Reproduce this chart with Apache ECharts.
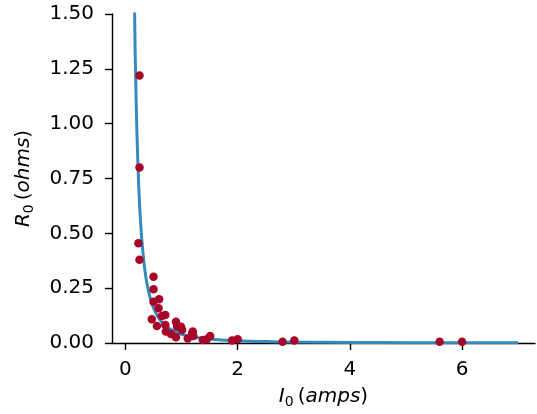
<!DOCTYPE html>
<html>
<head>
<meta charset="utf-8">
<script src="https://cdn.jsdelivr.net/npm/echarts@6/dist/echarts.min.js"></script>
<style>html,body{margin:0;padding:0;background:#fff}#c{width:537px;height:414px}</style>
</head>
<body>
<div id="c"></div>
<script>
// Measured current I0 (amps)
const measI = [0.25, 0.25, 0.23, 0.25, 0.50, 0.50, 0.50, 0.60, 0.59, 0.71, 0.65, 0.47, 0.56, 0.71, 0.72, 0.81, 0.90, 0.92, 0.99, 1.01, 0.90, 1.11, 1.20, 1.21, 1.19, 1.38, 1.51, 1.45, 1.90, 2.00, 2.80, 3.01, 5.60, 6.00];
// Measured resistance R0 (ohms)
const measR = [1.22, 0.80, 0.455, 0.38, 0.302, 0.245, 0.188, 0.199, 0.158, 0.128, 0.123, 0.108, 0.078, 0.082, 0.052, 0.041, 0.097, 0.074, 0.074, 0.059, 0.026, 0.021, 0.052, 0.032, 0.044, 0.014, 0.032, 0.017, 0.011, 0.017, 0.006, 0.011, 0.006, 0.006];
// Fitted curve
const fitI = [0.105, 0.13, 0.16, 0.19, 0.22, 0.25, 0.28, 0.32, 0.37, 0.43, 0.50, 0.60, 0.70, 0.85, 1.0, 1.2, 1.5, 2.0, 2.5, 3.0, 4.0, 5.0, 6.0, 7.0];
const fitR = [3.6, 2.37, 1.56, 1.11, 0.83, 0.64, 0.51, 0.39, 0.29, 0.216, 0.16, 0.111, 0.082, 0.055, 0.040, 0.028, 0.018, 0.010, 0.0064, 0.0044, 0.0025, 0.0016, 0.0011, 0.0008];
const xTicks = [0, 2, 4, 6];

const chart = echarts.init(document.getElementById('c'), null, {renderer: 'canvas'});
const font = 'DejaVu Sans';
const rich = {
  i: {fontFamily: font, fontStyle: 'italic', fontSize: 20, color: '#000'},
  n: {fontFamily: font, fontSize: 20, color: '#000'},
  s: {fontFamily: font, fontSize: 14, color: '#000', verticalAlign: 'bottom', padding: [10, 0, 0, 0]}
};
chart.setOption({
  animation: false,
  backgroundColor: '#fff',
  grid: {left: 112, right: 2, top: 14, bottom: 71},
  xAxis: {
    type: 'value', min: -0.24, max: 7.3,
    splitLine: {show: false},
    axisLine: {onZero: false, lineStyle: {color: '#000', width: 1.4}},
    axisTick: {customValues: xTicks, length: 7, lineStyle: {color: '#000', width: 1.4}},
    axisLabel: {customValues: xTicks, color: '#000', fontFamily: font, fontSize: 20, margin: 17},
    name: '{i|I}{s|0}{n|\u2009(}{i|amps}{n|)}',
    nameLocation: 'middle', nameGap: 42,
    nameTextStyle: {rich: rich}
  },
  yAxis: {
    type: 'value', min: 0, max: 1.5, interval: 0.25,
    splitLine: {show: false},
    axisLine: {show: true, onZero: false, lineStyle: {color: '#000', width: 1.4}},
    axisTick: {show: true, length: 7, lineStyle: {color: '#000', width: 1.4}},
    axisLabel: {color: '#000', fontFamily: font, fontSize: 20, margin: 18,
      formatter: v => v.toFixed(2)},
    name: '{i|R}{s|0}{n|\u2009(}{i|ohms}{n|)}',
    nameLocation: 'middle', nameGap: 76, nameRotate: 90,
    nameTextStyle: {rich: rich}
  },
  series: [
    {
      type: 'line', clip: true, showSymbol: false, smooth: true,
      data: fitI.map((x, i) => [x, fitR[i]]),
      lineStyle: {color: '#348ABD', width: 3}, z: 2
    },
    {
      type: 'scatter', symbolSize: 8.5,
      data: measI.map((x, i) => [x, measR[i]]),
      itemStyle: {color: '#A60628', opacity: 1}, z: 3
    }
  ]
});
</script>
</body>
</html>
